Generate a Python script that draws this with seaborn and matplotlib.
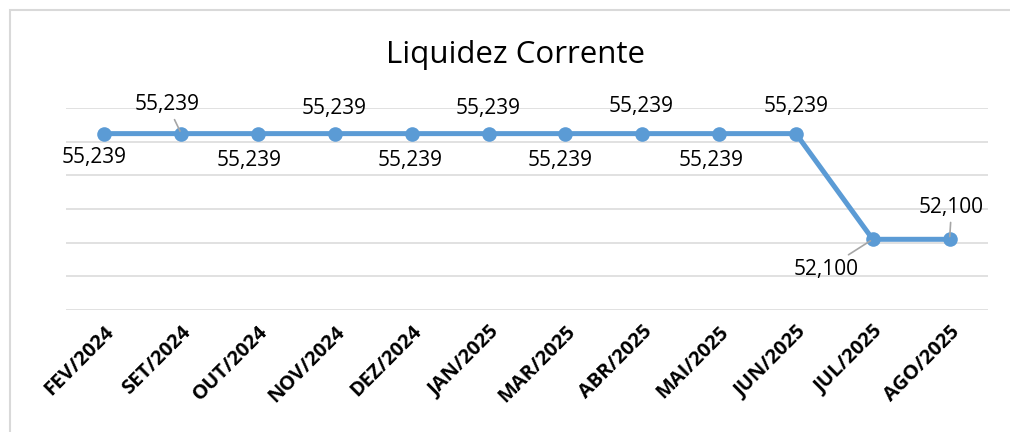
import matplotlib
matplotlib.use("Agg")
import matplotlib.pyplot as plt
import seaborn as sns
import pandas as pd
from matplotlib.patches import Rectangle

# data
meses = ["FEV/2024", "SET/2024", "OUT/2024", "NOV/2024", "DEZ/2024", "JAN/2025",
         "MAR/2025", "ABR/2025", "MAI/2025", "JUN/2025", "JUL/2025", "AGO/2025"]
liquidez = [55.239, 55.239, 55.239, 55.239, 55.239, 55.239,
            55.239, 55.239, 55.239, 55.239, 52.100, 52.100]

# label offsets (pixels) and which labels get a leader line
offsets = [(-10, -24), (-14, 29), (-9, -27), (-1, 25), (-2, -27), (0, 25),
           (-5, -27), (-1, 27), (-8, -27), (0, 27), (-47, -30), (2, 32)]
leader = [False, True, False, False, False, False,
          False, False, False, False, True, True]

df = pd.DataFrame({"mes": meses, "valor": liquidez})

sns.set_style("white")
plt.rcParams["font.family"] = ["Open Sans", "DejaVu Sans"]

fig = plt.figure(figsize=(10.1, 4.32), dpi=100)
ax = fig.add_axes([66 / 1010, 1 - 310 / 432, (988 - 66) / 1010, (310 - 108) / 432])

sns.lineplot(data=df, x="mes", y="valor", ax=ax, sort=False, color="#5B9BD5",
             linewidth=3.6, marker="o", markersize=10.5, markeredgewidth=0, zorder=3)

ax.set_xlim(-0.5, len(meses) - 0.5)
ax.set_ylim(50, 56)
ax.set_yticks(range(50, 57))
ax.yaxis.grid(True, color="#D9D9D9", linewidth=1.1)
ax.xaxis.grid(False)
ax.tick_params(axis="y", left=False, labelleft=False)
ax.tick_params(axis="x", bottom=False, pad=5)
for s in ax.spines.values():
    s.set_visible(False)
ax.set_xlabel("")
ax.set_ylabel("")

ax.set_xticks(range(len(meses)))
ax.set_xticklabels(meses, rotation=45, ha="right", va="top", rotation_mode="anchor",
                   fontsize=14.5, fontweight="bold", color="#000000")
for lbl in ax.get_xticklabels():
    lbl.set_x(lbl.get_position()[0])

for i, (v, (dx, dy)) in enumerate(zip(liquidez, offsets)):
    txt = f"{v:.3f}".replace(".", ",")
    props = None
    if leader[i]:
        props = dict(arrowstyle="-", color="#A6A6A6", lw=1.2, shrinkA=1, shrinkB=2)
    ax.annotate(txt, xy=(i, v), xytext=(dx, dy), textcoords="offset pixels",
                ha="center", va="center", fontsize=15, color="#000000",
                arrowprops=props, zorder=4)

fig.text(515 / 1010, 1 - 55 / 432, "Liquidez Corrente", ha="center", va="center",
         fontsize=22.5, color="#000000")

# chart border
fig.patches.append(Rectangle((10 / 1010, -0.1), 1.2, 1 - 10 / 432 + 0.1,
                             transform=fig.transFigure, fill=False,
                             edgecolor="#D9D9D9", linewidth=1.5))

fig.savefig("out.png", dpi=100)
